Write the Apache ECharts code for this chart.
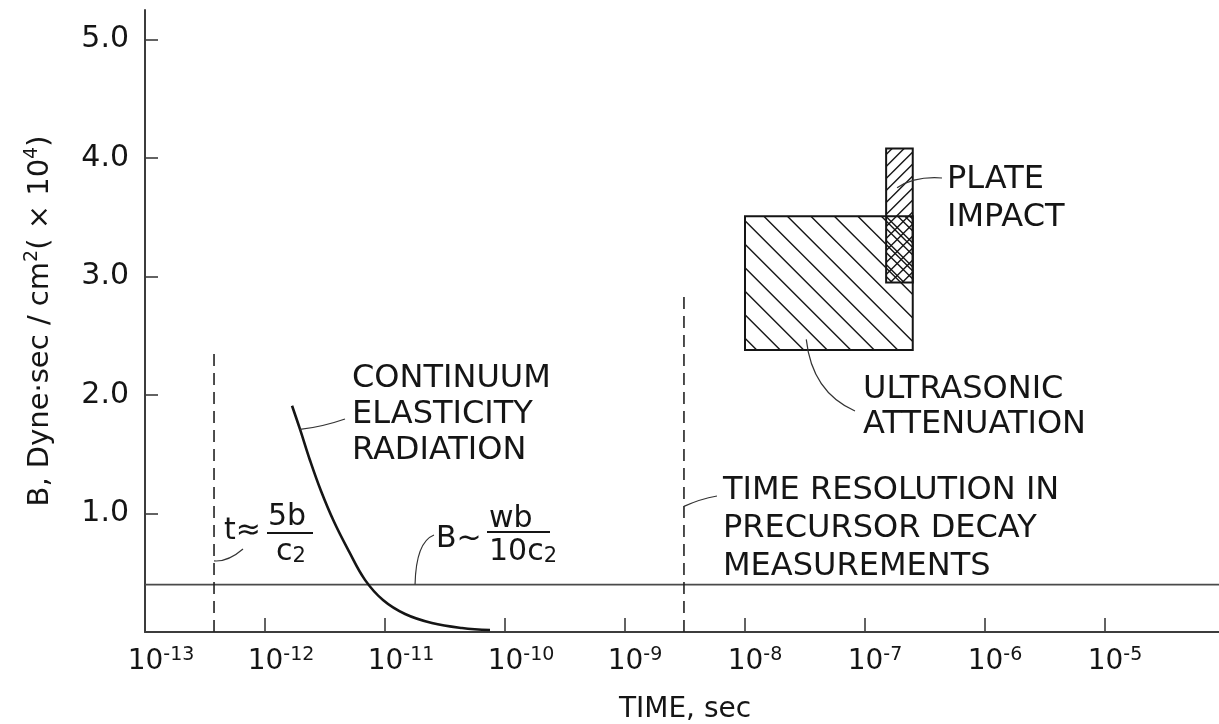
<!DOCTYPE html>
<html>
<head>
<meta charset="utf-8">
<script src="https://cdn.jsdelivr.net/npm/echarts@6/dist/echarts.min.js"></script>
<style>
  html, body { margin: 0; padding: 0; background: #ffffff; }
  #chart { width: 1219px; height: 724px; }
</style>
</head>
<body>
<div id="chart"></div>
<script>
// ---- data ----
const decadeExponents = [-13, -12, -11, -10, -9, -8, -7, -6, -5];
const yTickValues = [1, 2, 3, 4, 5];

// B ~ wb / 10c2 level (x10^4 dyne sec/cm^2)
const baselineB = 0.4;
const baselineSpan = [1e-13, 1e-4];

// continuum elasticity radiation curve
const radiationTime = [1.68e-12, 1.96e-12, 2.37e-12, 2.93e-12, 3.76e-12, 5.01e-12, 6.81e-12, 9.62e-12, 1.47e-11, 2.46e-11, 4.38e-11, 7.5e-11];
const radiationB    = [1.91, 1.71, 1.45, 1.19, 0.93, 0.68, 0.44, 0.27, 0.152, 0.076, 0.034, 0.017];

// t ~ 5b/c2 and precursor-decay time resolution (dashed verticals)
const cutoffTime = [3.76e-13, 3.1e-9];
const cutoffTop  = [2.40, 2.86];

// measured ranges: [t start, t end, B low, B high]
const ultrasonicRange = [1.0e-8, 2.5e-7, 2.38, 3.51];
const plateImpactRange = [1.5e-7, 2.5e-7, 2.95, 4.08];
const overlapRange = [
  Math.max(ultrasonicRange[0], plateImpactRange[0]),
  Math.min(ultrasonicRange[1], plateImpactRange[1]),
  Math.max(ultrasonicRange[2], plateImpactRange[2]),
  Math.min(ultrasonicRange[3], plateImpactRange[3])
];

// ---- styling ----
const FONT = '"DejaVu Sans", "Liberation Sans", sans-serif';
const INK = '#151515';
const AXIS = '#3c3c3c';

// hatch lines inside a pixel box; dir '\\' runs down-right, '/' runs up-right
function hatch(x, y, w, h, dir, step, width) {
  const out = [];
  if (dir === '\\') {
    for (let c = -h + step / 2; c < w; c += step) {
      const u0 = Math.max(0, -c), u1 = Math.min(h, w - c);
      if (u1 <= u0) continue;
      out.push({ type: 'line', silent: true,
        shape: { x1: x + u0 + c, y1: y + u0, x2: x + u1 + c, y2: y + u1 },
        style: { stroke: INK, lineWidth: width } });
    }
  } else {
    for (let s = step / 2; s < w + h; s += step) {
      const v0 = Math.max(0, s - w), v1 = Math.min(h, s);
      if (v1 <= v0) continue;
      out.push({ type: 'line', silent: true,
        shape: { x1: x + s - v0, y1: y + v0, x2: x + s - v1, y2: y + v1 },
        style: { stroke: INK, lineWidth: width } });
    }
  }
  return out;
}

function boxRenderer(dir, step, border) {
  return function (params, api) {
    const bl = api.coord([api.value(0), api.value(2)]);
    const tr = api.coord([api.value(1), api.value(3)]);
    const x = bl[0], y = tr[1], w = tr[0] - bl[0], h = bl[1] - tr[1];
    const children = hatch(x, y, w, h, dir, step, 1.4);
    if (border) {
      children.push({ type: 'rect', shape: { x: x, y: y, width: w, height: h },
        style: { fill: null, stroke: INK, lineWidth: 2 } });
    }
    return { type: 'group', children: children };
  };
}

function pairs(xs, ys) { return xs.map((v, i) => [v, ys[i]]); }

const chart = echarts.init(document.getElementById('chart'), null, { renderer: 'canvas' });

const padWidth = { 2: 20, 3: 32 };

chart.setOption({
  animation: false,
  backgroundColor: '#ffffff',
  grid: { left: 145, top: 10, width: 1080, height: 622, containLabel: false, outerBoundsMode: 'none' },
  xAxis: {
    type: 'log', logBase: 10, min: 1e-13, max: 1e-4, splitNumber: 9,
    name: 'TIME, sec', nameLocation: 'middle', nameGap: 64,
    nameTextStyle: { fontFamily: FONT, fontSize: 28, color: INK },
    axisLine: { show: true, onZero: false, lineStyle: { color: AXIS, width: 2 } },
    axisTick: { show: true, inside: true, length: 14, lineStyle: { color: AXIS, width: 1.6 } },
    splitLine: { show: false },
    minorTick: { show: false },
    axisLabel: {
      margin: 14, color: INK, showMaxLabel: false,
      formatter: function (v) {
        const e = Math.round(Math.log10(v));
        if (decadeExponents.indexOf(e) < 0) return '';
        const sup = String(e);
        return '{p' + sup.length + '| }{b|10}{s|' + sup + '}';
      },
      rich: {
        p2: { width: padWidth[2], fontSize: 18, fontFamily: FONT },
        p3: { width: padWidth[3], fontSize: 18, fontFamily: FONT },
        b: { fontSize: 28, fontFamily: FONT, color: INK, verticalAlign: 'bottom', lineHeight: 30 },
        s: { fontSize: 19, fontFamily: FONT, color: INK, verticalAlign: 'top', lineHeight: 30 }
      }
    }
  },
  yAxis: {
    type: 'value', min: 0, max: 5.25,
    name: '{a|B, Dyne·sec / cm}{s|2}{a|( × 10}{s|4}{a|)}',
    nameLocation: 'middle', nameRotate: 90, nameGap: 90,
    nameTextStyle: {
      rich: {
        a: { fontFamily: FONT, fontSize: 29, color: INK, verticalAlign: 'bottom', lineHeight: 32 },
        s: { fontFamily: FONT, fontSize: 19, color: INK, verticalAlign: 'top', lineHeight: 32 }
      }
    },
    axisLine: { show: true, lineStyle: { color: AXIS, width: 2 } },
    axisTick: { show: true, inside: true, length: 13, customValues: yTickValues, lineStyle: { color: AXIS, width: 1.6 } },
    splitLine: { show: false },
    axisLabel: {
      customValues: yTickValues, margin: 16,
      fontFamily: FONT, fontSize: 30, color: INK,
      formatter: function (v) { return v.toFixed(1); }
    }
  },
  series: [
    {
      type: 'line', name: 'baseline', data: baselineSpan.map(t => [t, baselineB]),
      showSymbol: false, silent: true, z: 2,
      lineStyle: { color: '#4a4a4a', width: 1.6 }
    },
    {
      type: 'line', name: 'cutoff-a', data: [[cutoffTime[0], 0], [cutoffTime[0], cutoffTop[0]]],
      showSymbol: false, silent: true, z: 2,
      lineStyle: { color: '#222', width: 1.6, type: [12, 7] }
    },
    {
      type: 'line', name: 'cutoff-b', data: [[cutoffTime[1], 0], [cutoffTime[1], cutoffTop[1]]],
      showSymbol: false, silent: true, z: 2,
      lineStyle: { color: '#222', width: 1.6, type: [12, 7] }
    },
    {
      type: 'line', name: 'radiation', data: pairs(radiationTime, radiationB),
      showSymbol: false, silent: true, smooth: 0.4, z: 3,
      lineStyle: { color: INK, width: 2.6 }
    },
    {
      type: 'custom', name: 'ultrasonic', data: [ultrasonicRange], silent: true, z: 3,
      renderItem: boxRenderer('\\', 23.5, true)
    },
    {
      type: 'custom', name: 'plate', data: [plateImpactRange], silent: true, z: 4,
      renderItem: boxRenderer('/', 12, true)
    },
    {
      type: 'custom', name: 'overlap', data: [overlapRange], silent: true, z: 4,
      renderItem: boxRenderer('\\', 12, false)
    }
  ]
});

// ---- annotations ----
function px(t, b) { return chart.convertToPixel({ gridIndex: 0 }, [t, b]); }

function label(text, x, y, size) {
  return { type: 'text', x: x, y: y, silent: true, z: 10,
    style: { text: text, fontFamily: FONT, fontSize: size || 32, fill: INK, align: 'left', verticalAlign: 'middle' } };
}
function richLabel(text, x, y, rich, align) {
  return { type: 'text', x: x, y: y, silent: true, z: 10,
    style: { text: text, rich: rich, fill: INK, align: align || 'left', verticalAlign: 'middle' } };
}
function leader(p, q, c) {
  return { type: 'bezierCurve', silent: true, z: 10,
    shape: { x1: p[0], y1: p[1], x2: q[0], y2: q[1], cpx1: c[0], cpy1: c[1] },
    style: { stroke: '#333', lineWidth: 1.2, fill: null } };
}
function bar(x1, x2, y) {
  return { type: 'line', silent: true, z: 10, shape: { x1: x1, y1: y, x2: x2, y2: y },
    style: { stroke: INK, lineWidth: 2 } };
}

const subRich = {
  c: { fontFamily: FONT, fontSize: 30, fill: INK, verticalAlign: 'top', lineHeight: 30 },
  s: { fontFamily: FONT, fontSize: 21, fill: INK, verticalAlign: 'bottom', lineHeight: 30 }
};

const tLead = px(cutoffTime[0], 0.6);
const bLead = px(1.78e-11, baselineB);
const rLead = px(radiationTime[1], radiationB[1]);
const dLead = px(cutoffTime[1], 1.06);
const pLead = px(1.85e-7, 3.75);
const uLead = px(3.24e-8, 2.47);

chart.setOption({
  graphic: [
    label('CONTINUUM', 352, 379),
    label('ELASTICITY', 352, 415),
    label('RADIATION', 352, 451),
    leader(rLead, [345, 419], [322, 427]),

    label('TIME RESOLUTION IN', 723, 491),
    label('PRECURSOR DECAY', 723, 529),
    label('MEASUREMENTS', 723, 567),
    leader(dLead, [717, 496], [700, 499]),

    label('PLATE', 947, 180),
    label('IMPACT', 947, 218),
    leader(pLead, [942, 178], [915, 176]),

    label('ULTRASONIC', 863, 390),
    label('ATTENUATION', 863, 425),
    leader(uLead, [855, 411], [812, 392]),

    label('t≈', 224, 531, 30),
    label('5b', 268, 517, 30),
    bar(267, 313, 533),
    richLabel('{c|c}{s|2}', 276, 552, subRich),
    leader(tLead, [243, 549], [228, 562]),

    label('B~', 436, 539, 30),
    label('wb', 489, 519, 30),
    bar(487, 550, 532),
    richLabel('{c|10c}{s|2}', 489, 552, subRich),
    leader(bLead, [434, 535], [416, 542])
  ]
});
</script>
</body>
</html>
